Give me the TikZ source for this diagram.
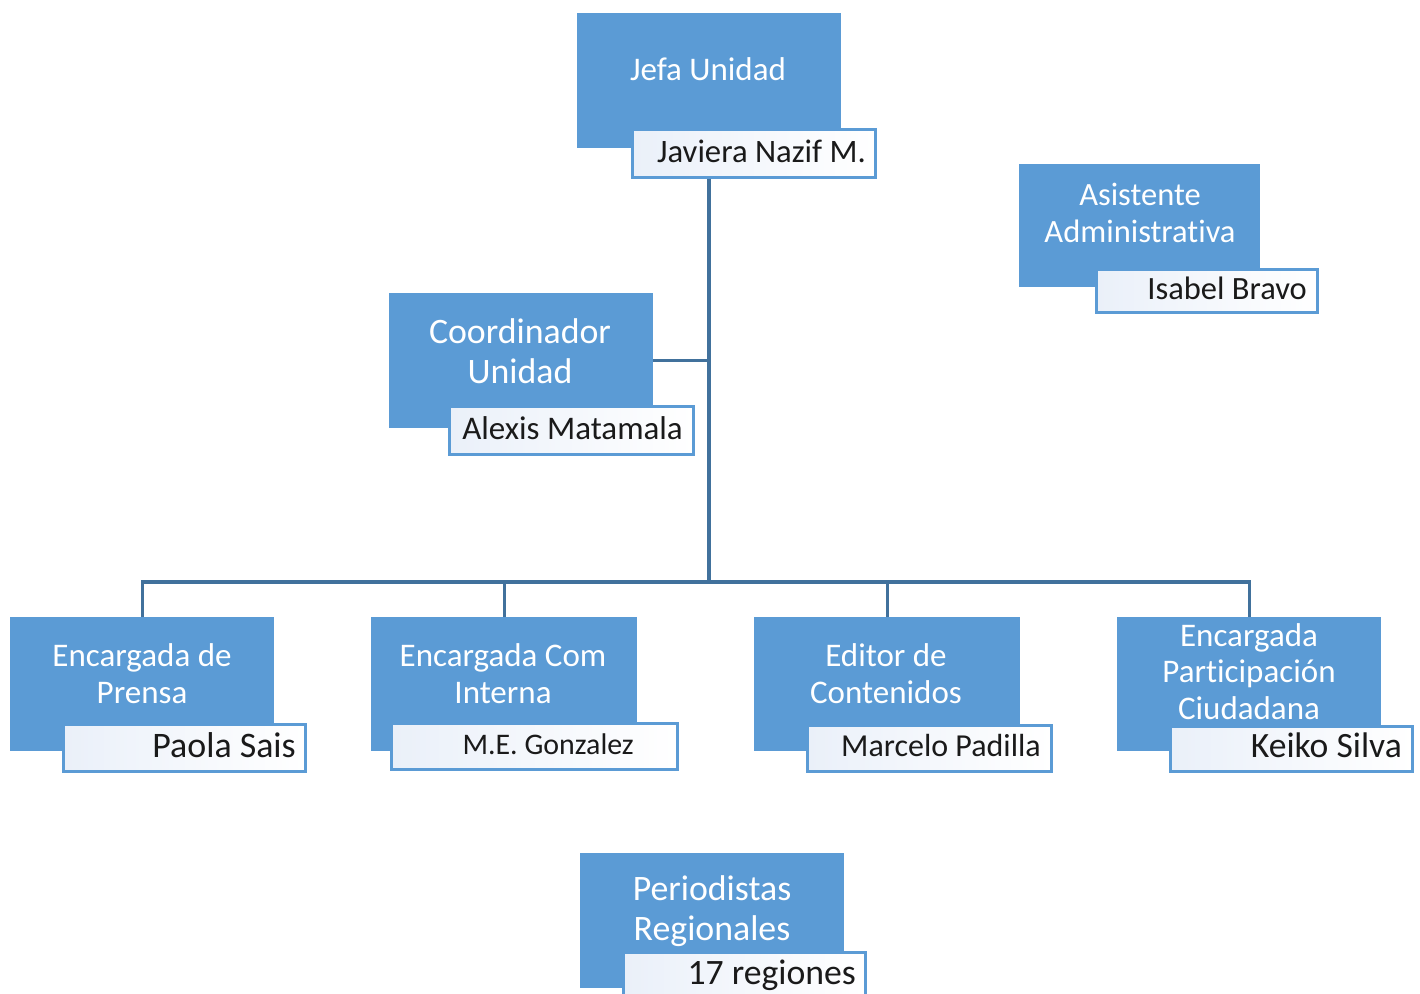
\documentclass[tikz,border=0pt]{standalone}
\usepackage{fontspec}
\setmainfont{Carlito}[Ligatures=NoCommon]
\definecolor{boxblue}{HTML}{5B9BD5}
\definecolor{linkblue}{HTML}{41719C}
\definecolor{nameL}{HTML}{EAF0F9}
\definecolor{nametxt}{HTML}{1A1A1A}
\tikzset{
  mainbox/.style={rectangle, fill=boxblue, inner sep=0pt, anchor=north west},
  namebox/.style={rectangle, left color=nameL, right color=white, draw=boxblue, line width=2.5pt, inner sep=0pt, anchor=north west},
  titletxt/.style={text=white, align=center, inner sep=0pt, anchor=base, font=\fontsize{#1}{36.5}\selectfont},
  titletxt/.default=33,
  bigtitle/.style={text=white, align=center, inner sep=0pt, anchor=base, font=\fontsize{35.8}{40}\selectfont},
  nametext/.style={text=nametxt, inner sep=0pt, anchor=base east, font=\fontsize{#1}{36}\selectfont},
  nametext/.default=33,
  conn/.style={draw=linkblue, line width=3.3pt}
}
\begin{document}
\begin{tikzpicture}[x=1pt,y=-1pt]
\useasboundingbox[fill=white] (0,0) rectangle (1420,993);
\coordinate (bus) at (709,582);
% Jefa
\node[mainbox, minimum width=264, minimum height=135] (jefa) at (577,13) {};
\node[titletxt] (jefaT) at (708,80) {Jefa Unidad};
% Asistente
\node[mainbox, minimum width=241, minimum height=123] (asis) at (1019,164) {};
\node[titletxt=32.5] (asisT) at (1140,242) {Asistente\\Administrativa};
% Coordinador
\node[mainbox, minimum width=264, minimum height=135] (coord) at (389,293) {};
\node[bigtitle] (coordT) at (520,383) {Coordinador\\Unidad};
% bottom row
\node[mainbox, minimum width=264, minimum height=134] (prensa) at (10,617) {};
\node[titletxt] (prensaT) at (142,703) {Encargada de\\Prensa};
\node[mainbox, minimum width=266, minimum height=134] (comint) at (371,617) {};
\node[titletxt] (comintT) at (503,703) {Encargada Com\\Interna};
\node[mainbox, minimum width=266, minimum height=134] (editor) at (754,617) {};
\node[titletxt] (editorT) at (886,703) {Editor de\\Contenidos};
\node[mainbox, minimum width=264, minimum height=134] (partic) at (1117,617) {};
\node[titletxt] (particT) at (1249,719) {Encargada\\Participación\\Ciudadana};
% Periodistas
\node[mainbox, minimum width=264, minimum height=135] (perio) at (580,853) {};
\node[bigtitle] (perioT) at (712,940) {Periodistas\\Regionales};
% connectors
\draw[conn] (prensa.north) |- (bus) -| (partic.north);
\draw[conn] (comint.north) |- (bus);
\draw[conn] (editor.north) |- (bus);
\draw[conn] (coord.east) -- (coord.east -| bus);
% name boxes
\node[namebox, minimum width=243, minimum height=48] (jefaN) at (631,128) {};
\draw[conn] (jefaN.south -| bus) -- (bus);
\node[nametext=32.7] (jefaNT) at (866,162) {Javiera Nazif M.};
\node[namebox, minimum width=221, minimum height=43] (asisN) at (1095,268) {};
\node[nametext=32.5] (asisNT) at (1307,299) {Isabel Bravo};
\node[namebox, minimum width=244, minimum height=48] (coordN) at (448,405) {};
\node[nametext] (coordNT) at (683,439) {Alexis Matamala};
\node[namebox, minimum width=242, minimum height=47] (prensaN) at (62,723) {};
\node[nametext=35.9] (prensaNT) at (296,757) {Paola Sais};
\node[namebox, minimum width=286, minimum height=46] (comintN) at (390,722) {};
\node[nametext=29.9] (comintNT) at (634,754) {M.E. Gonzalez};
\node[namebox, minimum width=244, minimum height=46] (editorN) at (806,724) {};
\node[nametext=32] (editorNT) at (1041,756) {Marcelo Padilla};
\node[namebox, minimum width=242, minimum height=45] (particN) at (1169,725) {};
\node[nametext=35.6] (particNT) at (1402,757) {Keiko Silva};
\node[namebox, minimum width=242, minimum height=46] (perioN) at (622,951) {};
\node[nametext=35.7] (perioNT) at (856,984) {17 regiones};
\end{tikzpicture}
\end{document}
